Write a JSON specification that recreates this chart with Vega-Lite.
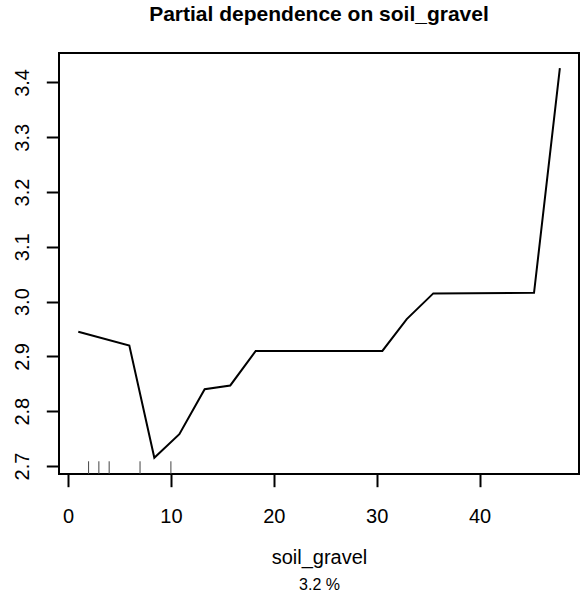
{
  "$schema": "https://vega.github.io/schema/vega-lite/v6.json",
  "autosize": "none",
  "padding": {"left": 59, "top": 53, "right": 3, "bottom": 119},
  "width": 520,
  "height": 421,
  "background": "white",
  "config": {
    "font": "Liberation Sans",
    "view": {"stroke": "black", "strokeWidth": 2}
  },
  "title": {
    "text": "Partial dependence on soil_gravel",
    "font": "Liberation Sans",
    "fontSize": 21,
    "fontWeight": "bold",
    "color": "black",
    "anchor": "middle",
    "offset": 28
  },
  "datasets": {
    "pd": [
      {"soil_gravel": 1.0, "yhat": 2.945},
      {"soil_gravel": 5.96, "yhat": 2.92},
      {"soil_gravel": 8.39, "yhat": 2.715},
      {"soil_gravel": 10.82, "yhat": 2.758},
      {"soil_gravel": 13.28, "yhat": 2.84},
      {"soil_gravel": 15.77, "yhat": 2.847},
      {"soil_gravel": 18.24, "yhat": 2.91},
      {"soil_gravel": 30.55, "yhat": 2.91},
      {"soil_gravel": 32.92, "yhat": 2.968},
      {"soil_gravel": 35.5, "yhat": 3.015},
      {"soil_gravel": 45.29, "yhat": 3.016},
      {"soil_gravel": 47.8, "yhat": 3.426}
    ],
    "rug": [
      {"soil_gravel": 2},
      {"soil_gravel": 3},
      {"soil_gravel": 4},
      {"soil_gravel": 7},
      {"soil_gravel": 10}
    ]
  },
  "resolve": {"axis": {"x": "independent"}},
  "layer": [
    {
      "data": {"name": "pd"},
      "mark": {"type": "line", "color": "black", "strokeWidth": 2},
      "encoding": {
        "x": {
          "field": "soil_gravel",
          "type": "quantitative",
          "scale": {"domain": [-0.875, 49.66], "nice": false, "zero": false},
          "axis": {
            "orient": "bottom",
            "values": [0, 10, 20, 30, 40],
            "domain": false,
            "grid": false,
            "tickSize": 12.7,
            "tickWidth": 2,
            "tickColor": "black",
            "labelFontSize": 20,
            "labelColor": "black",
            "labelBaseline": "alphabetic",
            "labelPadding": 36,
            "labelFlush": false,
            "title": "soil_gravel",
            "titleFontSize": 20,
            "titleFontWeight": "normal",
            "titleColor": "black",
            "titleBaseline": "alphabetic",
            "titleY": 89
          }
        },
        "y": {
          "field": "yhat",
          "type": "quantitative",
          "scale": {"domain": [2.6854, 3.4537], "nice": false, "zero": false},
          "axis": {
            "values": [2.7, 2.8, 2.9, 3.0, 3.1, 3.2, 3.3, 3.4],
            "format": ".1f",
            "domain": false,
            "grid": false,
            "tickSize": 12.7,
            "tickWidth": 2,
            "tickColor": "black",
            "labelFontSize": 20,
            "labelColor": "black",
            "labelAngle": 270,
            "labelAlign": "center",
            "labelBaseline": "alphabetic",
            "labelPadding": 18,
            "labelFlush": false,
            "title": null
          }
        }
      }
    },
    {
      "data": {"name": "rug"},
      "mark": {"type": "rule", "color": "#444444", "strokeWidth": 1},
      "encoding": {
        "x": {
          "field": "soil_gravel",
          "type": "quantitative",
          "axis": {
            "orient": "bottom",
            "domain": false,
            "grid": false,
            "ticks": false,
            "labels": false,
            "title": "3.2 %",
            "titleFontSize": 16,
            "titleFontWeight": "normal",
            "titleColor": "black",
            "titleBaseline": "alphabetic",
            "titleY": 115
          }
        },
        "y": {"datum": 2.6854},
        "y2": {"datum": 2.7086}
      }
    }
  ]
}
